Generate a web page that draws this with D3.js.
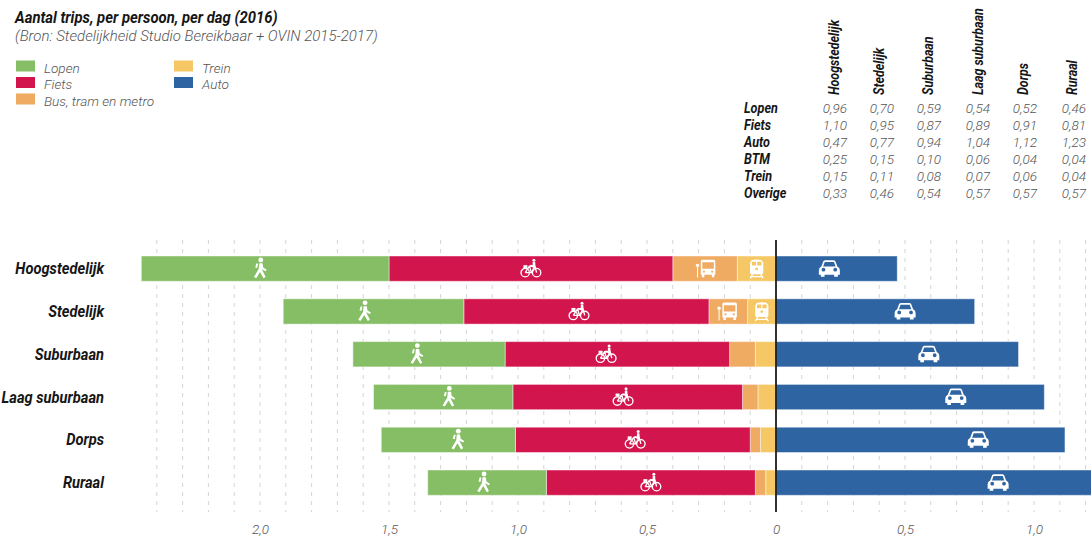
<!DOCTYPE html>
<html>
<head>
<meta charset="utf-8">
<script src="https://cdn.jsdelivr.net/npm/d3@7"></script>
<style>
body { margin: 0; background: #fff; }
svg { display: block; }
text { font-family: Roboto, sans-serif; font-style: italic; }
</style>
</head>
<body>
<svg width="1091" height="537"></svg>
<script>
var categories = ['Hoogstedelijk', 'Stedelijk', 'Suburbaan', 'Laag suburbaan', 'Dorps', 'Ruraal'];
var lopen = [0.96, 0.70, 0.59, 0.54, 0.52, 0.46];
var fiets = [1.10, 0.95, 0.87, 0.89, 0.91, 0.81];
var auto = [0.47, 0.77, 0.94, 1.04, 1.12, 1.23];
var btm = [0.25, 0.15, 0.10, 0.06, 0.04, 0.04];
var trein = [0.15, 0.11, 0.08, 0.07, 0.06, 0.04];
var overige = [0.33, 0.46, 0.54, 0.57, 0.57, 0.57];
var axisTicks = [-2, -1.5, -1, -0.5, 0, 0.5, 1];

// icon spot inside a segment, as a fraction from the zero side. null = no icon
var iconLopen = [0.52, 0.55, 0.58, 0.46, 0.43, 0.53];
var iconFiets = [0.50, 0.53, 0.55, 0.52, 0.49, 0.50];
var iconBtm = [0.48, 0.51, null, null, null, null];
var iconTrein = [0.50, 0.50, null, null, null, null];
var iconAuto = [0.44, 0.65, 0.63, 0.67, 0.70, 0.70];

var colors = { lopen: '#86be66', fiets: '#d2154d', btm: '#f0ab63', trein: '#f5c865', auto: '#2f64a3' };
var grey = '#555555', ink = '#161616';
var nl = d3.formatLocale({ decimal: ',', thousands: '.', grouping: [3], currency: ['€', ''] });

var svg = d3.select('svg');
var x = d3.scaleLinear().domain([-2.4, 1.2]).range([156.8, 1085.6]);
var y = d3.scaleBand().domain(categories).range([256, 495.3]).paddingInner(0.409).paddingOuter(0);

// roboto condensed is not there, so squeeze roboto
function cond(sel, px, py, sx, rot) {
	return sel.attr('transform', 'translate(' + px + ',' + py + ')' + (rot ? ' rotate(' + rot + ')' : '') + ' scale(' + sx + ',1)');
}

// title + legend
cond(svg.append('text'), 15, 22.5, 0.9).text('Aantal trips, per persoon, per dag (2016)')
	.attr('font-size', 16.5).attr('font-weight', 700).attr('fill', ink);
svg.append('text').attr('x', 15).attr('y', 41).text('(Bron: Stedelijkheid Studio Bereikbaar + OVIN 2015-2017)')
	.attr('font-size', 15).attr('font-weight', 300).attr('fill', grey);

var legend = [
	['Lopen', 'lopen', 16, 60.5], ['Fiets', 'fiets', 16, 77], ['Bus, tram en metro', 'btm', 16, 93.5],
	['Trein', 'trein', 174, 60.5], ['Auto', 'auto', 174, 77]
];
var lg = svg.append('g').selectAll('g').data(legend).enter().append('g')
	.attr('transform', function(d) { return 'translate(' + d[2] + ',' + d[3] + ')'; });
lg.append('rect').attr('width', 19).attr('height', 11).attr('fill', function(d) { return colors[d[1]]; });
lg.append('text').attr('x', 28).attr('y', 12).text(function(d) { return d[0]; })
	.attr('font-size', 13.6).attr('font-weight', 300).attr('fill', grey);

// table top right
var colRight = [847, 894, 941, 990, 1037, 1086];
var colHead = [839, 884, 933, 983, 1028, 1077];
var rows = [['Lopen', lopen], ['Fiets', fiets], ['Auto', auto], ['BTM', btm], ['Trein', trein], ['Overige', overige]];
categories.forEach(function(c, i) {
	cond(svg.append('text'), colHead[i], 95, 0.83, -90).text(c)
		.attr('font-size', 15).attr('font-weight', 700).attr('fill', ink);
});
rows.forEach(function(r, j) {
	var by = 113 + j * 16.9;
	cond(svg.append('text'), 744, by, 0.87).text(r[0])
		.attr('font-size', 14.5).attr('font-weight', 700).attr('fill', ink);
	r[1].forEach(function(v, i) {
		svg.append('text').attr('x', colRight[i]).attr('y', by).attr('text-anchor', 'end')
			.text(nl.format('.2f')(v)).attr('font-size', 13.5).attr('font-weight', 300).attr('fill', grey);
	});
});

// grid
svg.append('g').selectAll('line').data(d3.range(-24, 13)).enter().append('line')
	.attr('x1', function(d) { return x(d / 10); }).attr('x2', function(d) { return x(d / 10); })
	.attr('y1', 240).attr('y2', 512)
	.attr('stroke', '#d4d4d4').attr('stroke-width', 1).attr('stroke-dasharray', '4 5');

// bars. left side stacks outward from zero
var table = categories.map(function(c, i) {
	return { cat: c, trein: trein[i], btm: btm[i], fiets: fiets[i], lopen: lopen[i] };
});
var stack = d3.stack().keys(['trein', 'btm', 'fiets', 'lopen'])(table);
var iconSpots = { trein: iconTrein, btm: iconBtm, fiets: iconFiets, lopen: iconLopen };

svg.append('g').selectAll('g').data(stack).enter().append('g')
	.attr('fill', function(s) { return colors[s.key]; })
	.selectAll('rect').data(function(s) { return s; }).enter().append('rect')
	.attr('x', function(d) { return x(-d[1]); })
	.attr('y', function(d) { return y(d.data.cat); })
	.attr('width', function(d) { return x(-d[0]) - x(-d[1]); })
	.attr('height', y.bandwidth())
	.attr('stroke', '#fff').attr('stroke-opacity', 0.45).attr('stroke-width', 1);

svg.append('g').selectAll('rect').data(auto).enter().append('rect')
	.attr('x', x(0))
	.attr('y', function(d, i) { return y(categories[i]); })
	.attr('width', function(d) { return x(d) - x(0); })
	.attr('height', y.bandwidth())
	.attr('fill', colors.auto)
	.attr('stroke', '#fff').attr('stroke-opacity', 0.45).attr('stroke-width', 1);

// icons, drawn round 0,0
var icons = {
	lopen: function(g) {
		g = g.append('g').attr('transform', 'scale(1.15)');
		g.append('circle').attr('cx', 0.5).attr('cy', -7.5).attr('r', 2.1).attr('fill', '#fff');
		g.append('path').attr('d', 'M-0.8,-4.6 L2,-4.6 L2.6,-0.9 L5.6,1 L4.7,2.3 L1.4,0.6 L4.7,7.3 L2.9,8.3 L-0.2,3 L-3.5,8.3 L-5.4,7.3 L-1.3,0.4 Z M-3.4,-4.4 L-1.8,-4.4 L-2.6,-0.6 L-4.3,-0.9 Z').attr('fill', '#fff');
	},
	fiets: function(g) {
		var line = g.append('g').attr('fill', 'none').attr('stroke', '#fff').attr('stroke-width', 1.35);
		line.append('circle').attr('cx', -5.7).attr('cy', 4).attr('r', 4.2);
		line.append('circle').attr('cx', 5.7).attr('cy', 4).attr('r', 4.2);
		line.append('path').attr('d', 'M-5.7,4 L-1.5,-2.5 L4,-2.5 L5.7,4 M-1.5,-2.5 L0.5,4 L-5.7,4 M0.5,4 L4,-2.5');
		g.append('circle').attr('cx', 3).attr('cy', -8.3).attr('r', 1.5).attr('fill', '#fff');
		g.append('path').attr('d', 'M1.8,-6.6 L4.3,-6.6 L4.6,-1 L3,0.5 L2.2,-1.2 L-1.2,-2.2 L-0.4,-3.8 L1.7,-3.3 Z').attr('fill', '#fff');
		g.append('rect').attr('x', -7.5).attr('y', -3.5).attr('width', 4).attr('height', 3).attr('fill', '#fff');
	},
	btm: function(g) {
		g.append('path').attr('fill-rule', 'evenodd').attr('fill', '#fff')
			.attr('d', 'M-5.5,-7.5 Q-5.5,-9 -4,-9 L7.5,-9 Q9,-9 9,-7.5 L9,6 L8,6 L8,8.5 L5.5,8.5 L5.5,6 L-2,6 L-2,8.5 L-4.5,8.5 L-4.5,6 L-5.5,6 Z M-4,-6.3 L-4,0 L7.5,0 L7.5,-6.3 Z M-3.4,2 L-3.4,3.8 L-1.4,3.8 L-1.4,2 Z M4.9,2 L4.9,3.8 L6.9,3.8 L6.9,2 Z');
		g.append('circle').attr('cx', -8.8).attr('cy', -3.3).attr('r', 1.7).attr('fill', '#fff');
		g.append('rect').attr('x', -9.3).attr('y', -2).attr('width', 1).attr('height', 11).attr('fill', '#fff');
	},
	trein: function(g) {
		g.append('path').attr('fill-rule', 'evenodd').attr('fill', '#fff')
			.attr('d', 'M-5,-8.5 Q0,-10 5,-8.5 L6.6,-6 L6.6,4 Q6.6,5.5 4.8,5.5 L-4.8,5.5 Q-6.6,5.5 -6.6,4 L-6.6,-6 Z M-4.8,-7 L-4.8,-3.2 L-0.6,-3.2 L-0.6,-7 Z M0.6,-7 L0.6,-3.2 L4.8,-3.2 L4.8,-7 Z M-1.3,-1 L-1.3,1.3 L1.3,1.3 L1.3,-1 Z');
		g.append('path').attr('fill', 'none').attr('stroke', '#fff').attr('stroke-width', 1.3)
			.attr('d', 'M-4,5.5 L-6.5,9.8 M4,5.5 L6.5,9.8 M-5,8 L5,8');
	},
	auto: function(g) {
		g.append('path').attr('fill-rule', 'evenodd').attr('fill', '#fff')
			.attr('d', 'M-6,-7.5 Q-5.5,-8.5 -4,-8.5 L4,-8.5 Q5.5,-8.5 6,-7.5 L8,-2.2 Q10.5,-1.2 10.5,1.5 L10.5,6 L8.5,6 L8.5,8 L4.8,8 L4.8,6 L-4.8,6 L-4.8,8 L-8.5,8 L-8.5,6 L-10.5,6 L-10.5,1.5 Q-10.5,-1.2 -8,-2.2 Z M-4.6,-6.7 L-6.2,-2.2 L6.2,-2.2 L4.6,-6.7 Z M-7.8,1 A1.9,1.9 0 1 0 -4,1 A1.9,1.9 0 1 0 -7.8,1 Z M4,1 A1.9,1.9 0 1 0 7.8,1 A1.9,1.9 0 1 0 4,1 Z');
	}
};
var iconLayer = svg.append('g');
function placeIcon(key, a, b, frac, cat) {
	if (frac === null) return;
	var g = iconLayer.append('g')
		.attr('transform', 'translate(' + (x(a) + (x(b) - x(a)) * frac) + ',' + (y(cat) + y.bandwidth() / 2) + ')');
	icons[key](g);
}
stack.forEach(function(s) {
	s.forEach(function(d, i) { placeIcon(s.key, -d[0], -d[1], iconSpots[s.key][i], d.data.cat); });
});
auto.forEach(function(v, i) { placeIcon('auto', 0, v, iconAuto[i], categories[i]); });

// zero line
svg.append('line').attr('x1', x(0)).attr('x2', x(0)).attr('y1', 240).attr('y2', 512)
	.attr('stroke', '#1c1c1c').attr('stroke-width', 1.8);

// category names
categories.forEach(function(c) {
	cond(svg.append('text'), 104, y(c) + y.bandwidth() / 2 + 5.5, 0.89).text(c)
		.attr('text-anchor', 'end').attr('font-size', 16.5).attr('font-weight', 700).attr('fill', ink);
});

// axis
var axis = d3.axisBottom(x).tickValues(axisTicks).tickSize(0).tickPadding(0)
	.tickFormat(function(d) { return d === 0 ? '0' : nl.format('.1f')(Math.abs(d)); });
var ax = svg.append('g').attr('transform', 'translate(0,524)').call(axis);
ax.select('.domain').remove();
ax.selectAll('text').attr('font-size', 13.5).attr('font-weight', 300).attr('fill', grey)
	.style('font-family', 'Roboto, sans-serif').style('font-style', 'italic');
</script>
</body>
</html>
